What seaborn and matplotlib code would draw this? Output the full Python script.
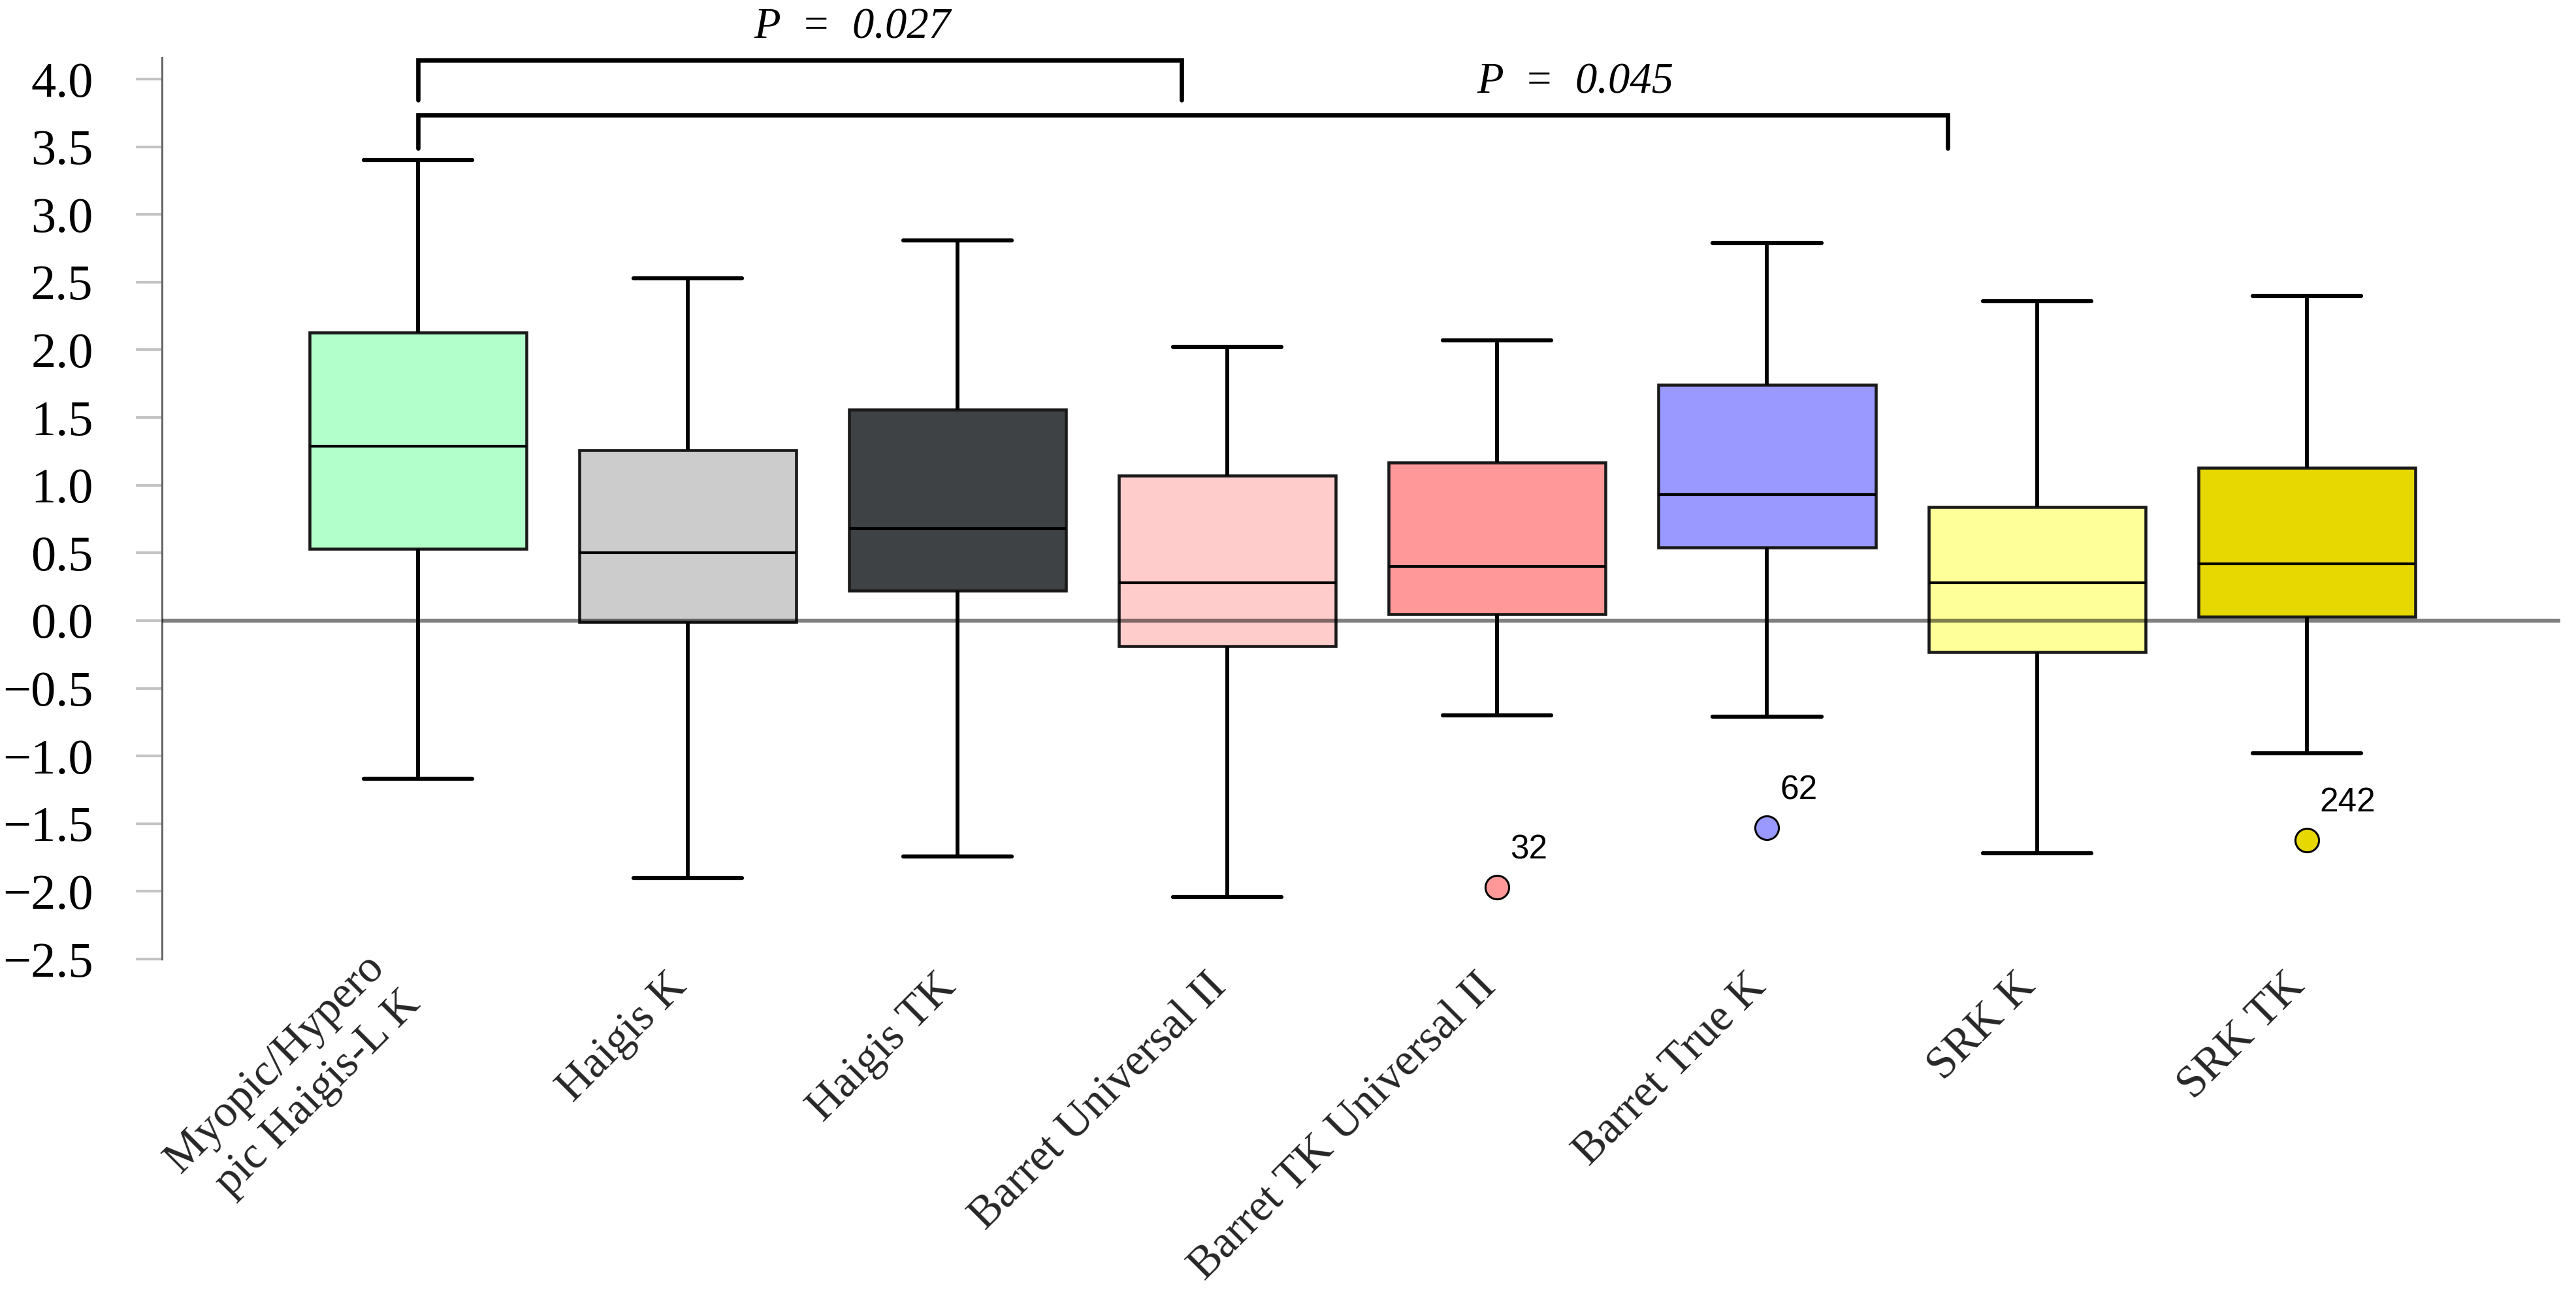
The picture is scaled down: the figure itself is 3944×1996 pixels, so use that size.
import numpy as np
import pandas as pd
import matplotlib
matplotlib.use("Agg")
import matplotlib.pyplot as plt
from matplotlib.ticker import FuncFormatter
from matplotlib.transforms import ScaledTranslation
import seaborn as sns

# ---------------- data ----------------
categories = ["Myopic/Hypero\npic Haigis-L K", "Haigis K", "Haigis TK",
              "Barret Universal II", "Barret TK Universal II", "Barret True K",
              "SRK K", "SRK TK"]
whisker_low = [-1.17, -1.90, -1.74, -2.04, -0.70, -0.71, -1.72, -0.98]
q1 = [0.53, -0.01, 0.22, -0.19, 0.05, 0.54, -0.23, 0.03]
median = [1.29, 0.50, 0.68, 0.28, 0.40, 0.93, 0.28, 0.42]
q3 = [2.13, 1.26, 1.56, 1.07, 1.17, 1.74, 0.84, 1.13]
whisker_high = [3.40, 2.53, 2.81, 2.02, 2.07, 2.79, 2.36, 2.40]
colors = ["#b3ffcc", "#cccccc", "#3f4244", "#ffcccc", "#ff9999", "#9999ff",
          "#ffff99", "#e6d800"]

outlier_cat = ["Barret TK Universal II", "Barret True K", "SRK TK"]
outlier_vals = [-1.97, -1.53, -1.62]
outlier_ids = ["32", "62", "242"]

yticks = [-2.5, -2.0, -1.5, -1.0, -0.5, 0.0, 0.5, 1.0, 1.5, 2.0, 2.5, 3.0, 3.5, 4.0]

comparisons = [  # (from, to, p-text)
    (0, 2.83, "P  =  0.027"),
    (0, 5.67, "P  =  0.045"),
]

# ---------------- build long table ----------------
rows = []
for i, c in enumerate(categories):
    for v in (whisker_low[i], q1[i], median[i], q3[i], whisker_high[i]):
        rows.append((c, v))
df = pd.DataFrame(rows, columns=["method", "value"])
palette = dict(zip(categories, colors))
odf = pd.DataFrame({"method": outlier_cat, "value": outlier_vals})

# ---------------- style ----------------
sns.set_theme(style="white")
plt.rcParams["font.family"] = ["Liberation Serif", "DejaVu Serif"]
plt.rcParams["axes.unicode_minus"] = True

fig = plt.figure(figsize=(39.44, 19.96), dpi=100)
ax = fig.add_axes([0.0629, 0.2645, 0.931, 0.7355])

sns.boxplot(data=df, x="method", y="value", hue="method", order=categories,
            hue_order=categories, palette=palette, saturation=1, width=0.804,
            whis=(0, 100), showfliers=False, linecolor="black", dodge=False,
            legend=False, ax=ax,
            boxprops=dict(linewidth=3.3, edgecolor="#1a1a1a"),
            whiskerprops=dict(linewidth=4.2, color="black"),
            capprops=dict(linewidth=4.5, color="black"),
            medianprops=dict(linewidth=3.0, color="black"))

sns.stripplot(data=odf, x="method", y="value", hue="method", order=categories,
              hue_order=categories, palette=palette, jitter=False, size=26,
              edgecolor="black", linewidth=2.2, legend=False, ax=ax, zorder=6)

for cat, val, lab in zip(outlier_cat, outlier_vals, outlier_ids):
    xi = categories.index(cat)
    ax.annotate(lab, xy=(xi, val), xytext=(14, 41), textcoords="offset points",
                ha="left", va="center", fontsize=37,
                family=["Liberation Sans", "DejaVu Sans"], color="black")

# zero reference line drawn on top of boxes
ax.axhline(0, color="black", alpha=0.5, lw=4.3, zorder=5)

# significance brackets
bracket_y = [(4.14, 3.845), (3.735, 3.49)]
text_pos = [(1.61, 4.38), (4.29, 3.976)]
for (x0, x1, txt), (ytop, ybot), (tx, ty) in zip(comparisons, bracket_y, text_pos):
    ax.plot([x0, x0, x1, x1], [ybot, ytop, ytop, ybot], color="black",
            lw=4.8, solid_joinstyle="miter", clip_on=False, zorder=7)
    ax.text(tx, ty, txt, ha="center", va="center", fontsize=48,
            style="italic", color="black")

# axes formatting
ax.set_xlim(-0.949, 7.94)
ax.set_ylim(-2.5, 4.584)
ax.set_yticks(yticks)
ax.yaxis.set_major_formatter(FuncFormatter(lambda v, p: f"{v:.1f}".replace("-", "\u2212")))
ax.tick_params(axis="y", length=29, width=3, color="#c4c4c4", pad=47,
               labelsize=55, labelcolor="black", left=True)
ax.set_xticks(range(len(categories)))
ax.set_xticklabels(categories, rotation=45, ha="right", va="baseline",
                   rotation_mode="anchor", multialignment="right", fontsize=50)
ax.tick_params(axis="x", length=0, pad=32)
for i, lbl in enumerate(ax.get_xticklabels()):
    if "\n" in lbl.get_text():
        lbl.set_linespacing(1.3)
        lbl.set_transform(lbl.get_transform() +
                          ScaledTranslation(-0.05, -0.16, fig.dpi_scale_trans))
ax.set_xlabel("")
ax.set_ylabel("")
for s in ("top", "right", "bottom"):
    ax.spines[s].set_visible(False)
ax.spines["left"].set_color("#666666")
ax.spines["left"].set_linewidth(2.2)
ax.spines["left"].set_bounds(-2.5, 4.16)
ax.grid(False)

fig.savefig("out.png", dpi=100, facecolor="white")
